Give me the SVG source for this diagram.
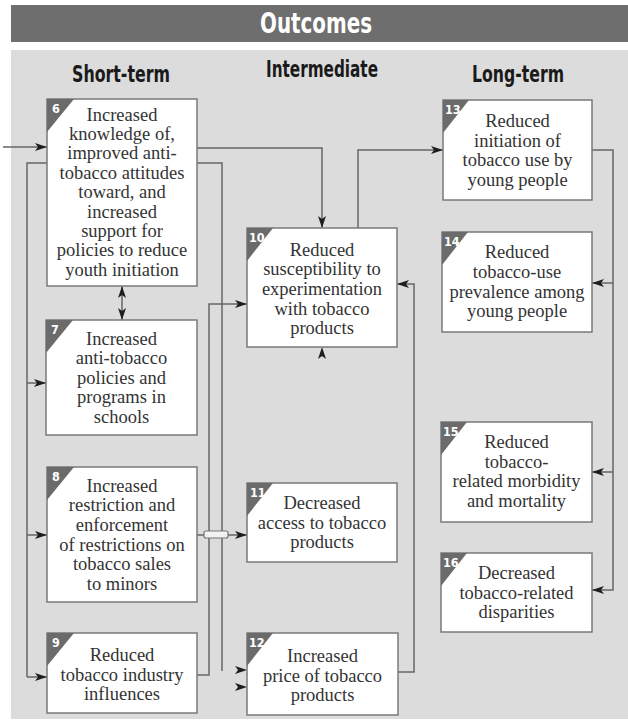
<svg xmlns="http://www.w3.org/2000/svg" width="628" height="726" viewBox="0 0 628 726">
<defs>
<style>
.hdr{font-family:"Liberation Sans Narrow","DejaVu Sans Condensed","Liberation Sans",sans-serif;font-weight:bold;font-stretch:condensed;text-anchor:middle}
.box{fill:#ffffff;stroke:#7a7a7a;stroke-width:1.5}
.tri{fill:#6b6b6b}
.num{font-family:"Liberation Sans Narrow","DejaVu Sans Condensed","Liberation Sans",sans-serif;font-weight:bold;font-size:12.5px;fill:#ffffff}
.t{font-family:"Liberation Serif","DejaVu Serif",serif;font-size:18.5px;fill:#333333;text-anchor:middle}
.ln{fill:none;stroke:#666666;stroke-width:1.5}
.ah{fill:#1e1e1e}
</style>
<marker id="arr" viewBox="0 0 12 8" refX="12" refY="4" markerWidth="12" markerHeight="8" markerUnits="userSpaceOnUse" orient="auto-start-reverse">
<path d="M0,0 L12,4 L0,8 L3,4 Z" fill="#1e1e1e"/>
</marker>
</defs>
<rect x="0" y="0" width="628" height="726" fill="#ffffff"/>
<g id="header">
<rect x="11" y="5" width="617" height="37" fill="#6e6e6e"/>
<text class="hdr" x="316" y="33" font-size="28" fill="#ffffff" textLength="112" lengthAdjust="spacingAndGlyphs">Outcomes</text>
</g>
<rect id="panel" x="11" y="50" width="617" height="669" fill="#dcdcdc"/>
<g id="column-headers">
<text class="hdr" x="121" y="82" font-size="23" fill="#1a1a1a" textLength="98" lengthAdjust="spacingAndGlyphs">Short-term</text>
<text class="hdr" x="322" y="77" font-size="23" fill="#1a1a1a" textLength="112" lengthAdjust="spacingAndGlyphs">Intermediate</text>
<text class="hdr" x="518" y="82" font-size="23" fill="#1a1a1a" textLength="92" lengthAdjust="spacingAndGlyphs">Long-term</text>
</g>
<g id="connectors">
<path class="ln" d="M3,147 H47" marker-end="url(#arr)"/>
<path class="ln" d="M197,148 H322 V228" marker-end="url(#arr)"/>
<path class="ln" d="M27,677 V163 H222 V671"/>
<path class="ln" d="M27,383 H46" marker-end="url(#arr)"/>
<path class="ln" d="M27,535 H47" marker-end="url(#arr)"/>
<path class="ln" d="M27,677 H47" marker-end="url(#arr)"/>
<path class="ln" d="M122,286 V320" marker-start="url(#arr)" marker-end="url(#arr)"/>
<path class="ln" d="M197,675 H209 V304 H247" marker-end="url(#arr)"/>
<path class="ln" d="M197,535 H247" marker-end="url(#arr)"/>
<rect x="204" y="531" width="24" height="7" rx="2" fill="#f2f2f2" stroke="#777777" stroke-width="1.2"/>
<path class="ah" d="M247,670 L235,666 L238,670 L235,674 Z"/>
<path class="ah" d="M247,687 L235,683 L238,687 L235,691 Z"/>
<path class="ah" d="M322,347 L318,359 L322,356 L326,359 Z"/>
<path class="ln" d="M398,672 H414 V284 H397" marker-end="url(#arr)"/>
<path class="ln" d="M358,228 V150 H443" marker-end="url(#arr)"/>
<path class="ln" d="M592,150 H613 V590 H592" marker-end="url(#arr)"/>
<path class="ln" d="M613,283 H592" marker-end="url(#arr)"/>
<path class="ln" d="M613,472 H592" marker-end="url(#arr)"/>
</g>
<g id="node6">
<rect class="box" x="47" y="99" width="150" height="187"/>
<path class="tri" d="M47,99 H74 L47,132 Z"/>
<text class="num" x="52" y="113">6</text>
<text class="t" x="122" y="120.5">Increased</text>
<text class="t" x="122" y="139.9">knowledge of,</text>
<text class="t" x="122" y="159.3">improved anti-</text>
<text class="t" x="122" y="178.7">tobacco attitudes</text>
<text class="t" x="122" y="198.1">toward, and</text>
<text class="t" x="122" y="217.5">increased</text>
<text class="t" x="122" y="236.9">support for</text>
<text class="t" x="122" y="256.3">policies to reduce</text>
<text class="t" x="122" y="275.7">youth initiation</text>
</g>
<g id="node7">
<rect class="box" x="46" y="320" width="151" height="115"/>
<path class="tri" d="M46,320 H73 L46,353 Z"/>
<text class="num" x="51" y="334">7</text>
<text class="t" x="121.5" y="345">Increased</text>
<text class="t" x="121.5" y="364.4">anti-tobacco</text>
<text class="t" x="121.5" y="383.8">policies and</text>
<text class="t" x="121.5" y="403.2">programs in</text>
<text class="t" x="121.5" y="422.6">schools</text>
</g>
<g id="node8">
<rect class="box" x="47" y="467" width="150" height="135"/>
<path class="tri" d="M47,467 H74 L47,500 Z"/>
<text class="num" x="52" y="481">8</text>
<text class="t" x="122" y="491.7">Increased</text>
<text class="t" x="122" y="511.3">restriction and</text>
<text class="t" x="122" y="530.9">enforcement</text>
<text class="t" x="122" y="550.5">of restrictions on</text>
<text class="t" x="122" y="570.1">tobacco sales</text>
<text class="t" x="122" y="589.7">to minors</text>
</g>
<g id="node9">
<rect class="box" x="47" y="633" width="150" height="80"/>
<path class="tri" d="M47,633 H74 L47,666 Z"/>
<text class="num" x="52" y="647">9</text>
<text class="t" x="122" y="661">Reduced</text>
<text class="t" x="122" y="680.5">tobacco industry</text>
<text class="t" x="122" y="700">influences</text>
</g>
<g id="node10">
<rect class="box" x="247" y="228" width="150" height="119"/>
<path class="tri" d="M247,228 H273 L247,261 Z"/>
<text class="num" x="249" y="242">10</text>
<text class="t" x="322" y="255.7">Reduced</text>
<text class="t" x="322" y="275.3">susceptibility to</text>
<text class="t" x="322" y="294.9">experimentation</text>
<text class="t" x="322" y="314.5">with tobacco</text>
<text class="t" x="322" y="334.1">products</text>
</g>
<g id="node11">
<rect class="box" x="247" y="483" width="150" height="79"/>
<path class="tri" d="M247,483 H273 L247,516 Z"/>
<text class="num" x="250" y="497">11</text>
<text class="t" x="322" y="509">Decreased</text>
<text class="t" x="322" y="528.5">access to tobacco</text>
<text class="t" x="322" y="548">products</text>
</g>
<g id="node12">
<rect class="box" x="247" y="633" width="151" height="82"/>
<path class="tri" d="M247,633 H273 L247,666 Z"/>
<text class="num" x="249" y="647">12</text>
<text class="t" x="322.5" y="662">Increased</text>
<text class="t" x="322.5" y="681.5">price of tobacco</text>
<text class="t" x="322.5" y="701">products</text>
</g>
<g id="node13">
<rect class="box" x="443" y="100" width="149" height="100"/>
<path class="tri" d="M443,100 H469 L443,133 Z"/>
<text class="num" x="445" y="114">13</text>
<text class="t" x="517.5" y="127">Reduced</text>
<text class="t" x="517.5" y="146.7">initiation of</text>
<text class="t" x="517.5" y="166.4">tobacco use by</text>
<text class="t" x="517.5" y="186">young people</text>
</g>
<g id="node14">
<rect class="box" x="442" y="232" width="150" height="100"/>
<path class="tri" d="M442,232 H468 L442,265 Z"/>
<text class="num" x="444" y="246">14</text>
<text class="t" x="517" y="258">Reduced</text>
<text class="t" x="517" y="277.8">tobacco-use</text>
<text class="t" x="517" y="297.6">prevalence among</text>
<text class="t" x="517" y="317.4">young people</text>
</g>
<g id="node15">
<rect class="box" x="441" y="422" width="151" height="100"/>
<path class="tri" d="M441,422 H467 L441,455 Z"/>
<text class="num" x="443" y="436">15</text>
<text class="t" x="516.5" y="448">Reduced</text>
<text class="t" x="516.5" y="467.7">tobacco-</text>
<text class="t" x="516.5" y="487.4">related morbidity</text>
<text class="t" x="516.5" y="507">and mortality</text>
</g>
<g id="node16">
<rect class="box" x="441" y="553" width="151" height="79"/>
<path class="tri" d="M441,553 H467 L441,586 Z"/>
<text class="num" x="443" y="567">16</text>
<text class="t" x="516.5" y="579">Decreased</text>
<text class="t" x="516.5" y="598.5">tobacco-related</text>
<text class="t" x="516.5" y="618">disparities</text>
</g>
</svg>
